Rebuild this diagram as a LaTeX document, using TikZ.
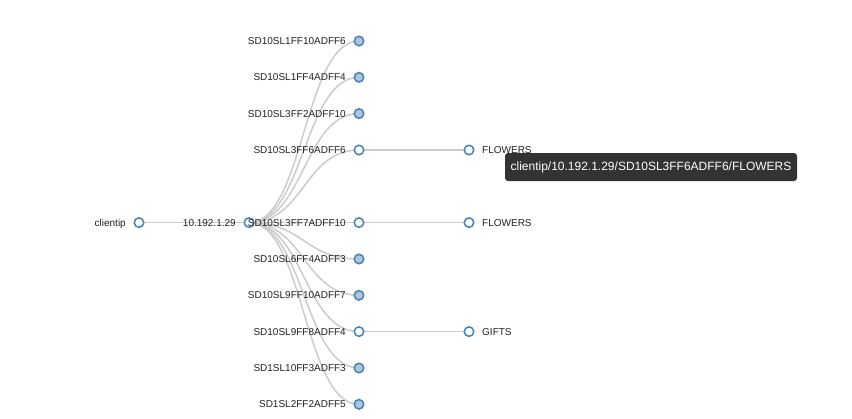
\documentclass[tikz,border=0pt]{standalone}
\usepackage{fontspec}
\setmainfont{Liberation Sans}
\usetikzlibrary{calc,backgrounds}
\definecolor{linkgray}{HTML}{CCCCCC}
\definecolor{steel}{HTML}{4682B4}
\definecolor{lsteel}{HTML}{B0C4DE}
\definecolor{tipbg}{HTML}{333333}
\definecolor{txt}{HTML}{222222}
\begin{document}
\begin{tikzpicture}[x=1pt,y=-1pt,
  link/.style={draw=linkgray, line width=1.5pt},
  nd/.style={circle, draw=steel, line width=1.5pt, fill=white, minimum size=9.5pt, inner sep=0pt},
  ndc/.style={nd, fill=lsteel},
  lbl/.style={font=\fontsize{10}{12}\selectfont, text=txt, inner sep=0pt},
  lleft/.style={lbl, anchor=base east, xshift=-13pt, yshift=-3.5pt},
  lright/.style={lbl, anchor=base west, xshift=13pt, yshift=-3.5pt},
  tip/.style={fill=tipbg, rounded corners=3pt, text=white, font=\fontsize{12}{14}\selectfont, minimum width=292pt, minimum height=28pt, inner sep=0pt}
]
\begin{pgfonlayer}{background}
\fill[white] (0,0) rectangle (852,418);
\end{pgfonlayer}
\useasboundingbox (0,0) rectangle (852,418);

% nodes
\node[nd] (c) at (139,222.6) {};
\node[nd] (r) at (249,222.6) {};
\node[ndc] (a1) at (359,41) {};
\node[ndc] (a2) at (359,77.3) {};
\node[ndc] (a3) at (359,113.6) {};
\node[nd]  (a4) at (359,150) {};
\node[nd]  (a5) at (359,222.6) {};
\node[ndc] (a6) at (359,259) {};
\node[ndc] (a7) at (359,295.3) {};
\node[nd]  (a8) at (359,331.6) {};
\node[ndc] (a9) at (359,368) {};
\node[ndc] (a10) at (359,404.3) {};
\node[nd] (b1) at (469,150) {};
\node[nd] (b2) at (469,222.6) {};
\node[nd] (b3) at (469,331.6) {};

% labels
\node[lleft] (lc) at (c.center) {clientip};
\node[lleft] (lr) at (r.center) {10.192.1.29};
\node[lleft] (l1) at (a1.center) {SD10SL1FF10ADFF6};
\node[lleft] (l2) at (a2.center) {SD10SL1FF4ADFF4};
\node[lleft] (l3) at (a3.center) {SD10SL3FF2ADFF10};
\node[lleft] (l4) at (a4.center) {SD10SL3FF6ADFF6};
\node[lleft] (l5) at (a5.center) {SD10SL3FF7ADFF10};
\node[lleft] (l6) at (a6.center) {SD10SL6FF4ADFF3};
\node[lleft] (l7) at (a7.center) {SD10SL9FF10ADFF7};
\node[lleft] (l8) at (a8.center) {SD10SL9FF8ADFF4};
\node[lleft] (l9) at (a9.center) {SD1SL10FF3ADFF3};
\node[lleft] (l10) at (a10.center) {SD1SL2FF2ADFF5};
\node[lright] (m1) at (b1.center) {FLOWERS};
\node[lright] (m2) at (b2.center) {FLOWERS};
\node[lright] (m3) at (b3.center) {GIFTS};

% links
\begin{pgfonlayer}{background}
\draw[link] (c.center) -- (r.center);
\foreach \t in {a1,a2,a3,a4,a5,a6,a7,a8,a9,a10}{
  \draw[link] let \p1=(r.center), \p2=(\t.center) in
    (\p1) .. controls ({(\x1+\x2)/2},\y1) and ({(\x1+\x2)/2},\y2) .. (\p2);
}
\draw[link] (a4.center) -- (b1.center);
\draw[link] (a5.center) -- (b2.center);
\draw[link] (a8.center) -- (b3.center);
\end{pgfonlayer}

% tooltip
\node[tip] (tt) at (651,167) {clientip/10.192.1.29/SD10SL3FF6ADFF6/FLOWERS};
\end{tikzpicture}
\end{document}
